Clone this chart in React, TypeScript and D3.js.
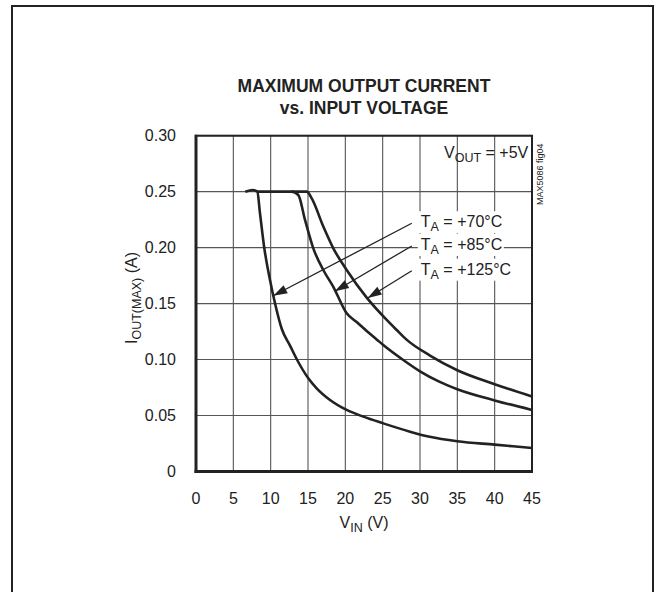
import React from "react";
import * as d3 from "d3";

const xTicks = [0, 5, 10, 15, 20, 25, 30, 35, 40, 45];
const yTicks = [0, 0.05, 0.1, 0.15, 0.2, 0.25, 0.3];
const yTickLabels = ["0", "0.05", "0.10", "0.15", "0.20", "0.25", "0.30"];

const vin70 = [6.6, 7.6, 8.21, 8.57, 9.15, 9.91, 10.58, 11.48, 12.59, 13.48, 15.04, 16.16, 17.95, 20.18, 22.4, 25.08, 28.66, 31.3, 35, 40, 45];
const iout70 = [0.25, 0.2515, 0.25, 0.2307, 0.1994, 0.1711, 0.1503, 0.1275, 0.1125, 0.1005, 0.0833, 0.0743, 0.0639, 0.055, 0.049, 0.043, 0.0356, 0.031, 0.027, 0.024, 0.021];

const vin85 = [8.21, 12.82, 13.7, 14.6, 15.71, 17.05, 18.39, 20.18, 21.52, 22.86, 24.2, 25.08, 27.76, 30.0, 32.5, 35, 40, 45];
const iout85 = [0.25, 0.25, 0.247, 0.2248, 0.1994, 0.18, 0.165, 0.1414, 0.1335, 0.1255, 0.118, 0.113, 0.0996, 0.0895, 0.0805, 0.0735, 0.0635, 0.055];

const vin125 = [12.82, 14.82, 15.5, 17.05, 18.39, 20.18, 22.86, 25.54, 26.88, 28.2, 31.34, 35, 40, 45];
const iout125 = [0.25, 0.25, 0.244, 0.2188, 0.1994, 0.18, 0.1553, 0.1354, 0.1264, 0.1178, 0.1036, 0.0905, 0.078, 0.067];

const arrowLabels = ["+70°C", "+85°C", "+125°C"];
const arrowStart = [[28.9, 0.2218], [28.9, 0.2015], [28.9, 0.1794]];
const arrowTip = [[10.35, 0.157], [18.6, 0.161], [23.0, 0.155]];

const W = 656;
const H = 592;
const left = 196, right = 532, top = 135.7, bottom = 471.5;

export default function App() {
  const x = d3.scaleLinear().domain([0, 45]).range([left, right]);
  const y = d3.scaleLinear().domain([0, 0.3]).range([bottom, top]);
  const line = d3
    .line<[number, number]>()
    .x((d) => x(d[0]))
    .y((d) => y(d[1]))
    .curve(d3.curveMonotoneX);
  const series = [
    vin70.map((v, i) => [v, iout70[i]] as [number, number]),
    vin85.map((v, i) => [v, iout85[i]] as [number, number]),
    vin125.map((v, i) => [v, iout125[i]] as [number, number]),
  ];
  const font = "'Liberation Sans', Arial, sans-serif";

  const arrowHead = (sx: number, sy: number, tx: number, ty: number) => {
    const ang = Math.atan2(ty - sy, tx - sx);
    const len = 14, half = 4.5;
    const bx = tx - len * Math.cos(ang), by = ty - len * Math.sin(ang);
    const px = -Math.sin(ang) * half, py = Math.cos(ang) * half;
    return `M${tx},${ty}L${bx + px},${by + py}L${bx - px},${by - py}Z`;
  };

  return (
    <svg width={W} height={H} style={{ position: "absolute", left: 0, top: 0, background: "#fff" }} fontFamily={font}>
      <rect x={0} y={0} width={W} height={H} fill="#fff" />
      <rect x={12} y={6} width={641} height={620} fill="none" stroke="#222" strokeWidth={2} />
      <text x={364} y={92} textAnchor="middle" fontSize={17.5} fontWeight="bold" fill="#222">MAXIMUM OUTPUT CURRENT</text>
      <text x={364} y={114} textAnchor="middle" fontSize={17.5} fontWeight="bold" fill="#222">vs. INPUT VOLTAGE</text>

      {xTicks.map((t) => (
        <line key={"gx" + t} x1={x(t)} x2={x(t)} y1={top} y2={bottom} stroke="#555" strokeWidth={1.1} />
      ))}
      {yTicks.map((t) => (
        <line key={"gy" + t} x1={left} x2={right} y1={y(t)} y2={y(t)} stroke="#555" strokeWidth={1.1} />
      ))}
      <rect x={left} y={top} width={right - left} height={bottom - top} fill="none" stroke="#222" strokeWidth={2} />
      <line x1={left} x2={left} y1={top - 1} y2={bottom + 1.5} stroke="#222" strokeWidth={3} />
      <line x1={left - 1.5} x2={right + 1} y1={bottom} y2={bottom} stroke="#222" strokeWidth={3} />

      {series.map((s, i) => (
        <path key={"s" + i} d={line(s) || ""} fill="none" stroke="#222" strokeWidth={2.6} strokeLinejoin="round" />
      ))}

      {yTicks.map((t, i) => (
        <text key={"yl" + t} x={176} y={y(t) + 5.5} textAnchor="end" fontSize={16} fill="#222">{yTickLabels[i]}</text>
      ))}
      {xTicks.map((t) => (
        <text key={"xl" + t} x={x(t)} y={504} textAnchor="middle" fontSize={16} fill="#222">{t}</text>
      ))}

      <text x={364} y={528} textAnchor="middle" fontSize={16} fill="#222">
        V<tspan fontSize={12.5} dy={4}>IN</tspan><tspan dy={-4}> (V)</tspan>
      </text>
      <text transform={`translate(137,298) rotate(-90)`} textAnchor="middle" fontSize={16} fill="#222">
        I<tspan fontSize={12.5} dy={4}>OUT(MAX)</tspan><tspan dy={-4}> (A)</tspan>
      </text>

      <text x={444} y={158} fontSize={16} fill="#222">
        V<tspan fontSize={12.5} dy={4}>OUT</tspan><tspan dy={-4}> = +5V</tspan>
      </text>
      <text transform={`translate(543,205) rotate(-90)`} fontSize={9} fill="#222">MAX5086 fig04</text>

      {arrowLabels.map((l, i) => {
        const sx = x(arrowStart[i][0]), sy = y(arrowStart[i][1]);
        const tx = x(arrowTip[i][0]), ty = y(arrowTip[i][1]);
        return (
          <g key={"a" + i}>
            <line x1={sx} y1={sy} x2={tx} y2={ty} stroke="#222" strokeWidth={1.3} />
            <path d={arrowHead(sx, sy, tx, ty)} fill="#222" />
            <rect x={sx + 6} y={sy - 12} width={86} height={22} fill="#fff" />
            <text x={sx + 9} y={sy + 4} fontSize={16} fill="#222">
              T<tspan fontSize={12.5} dy={4}>A</tspan><tspan dy={-4}> = {l}</tspan>
            </text>
          </g>
        );
      })}
    </svg>
  );
}
